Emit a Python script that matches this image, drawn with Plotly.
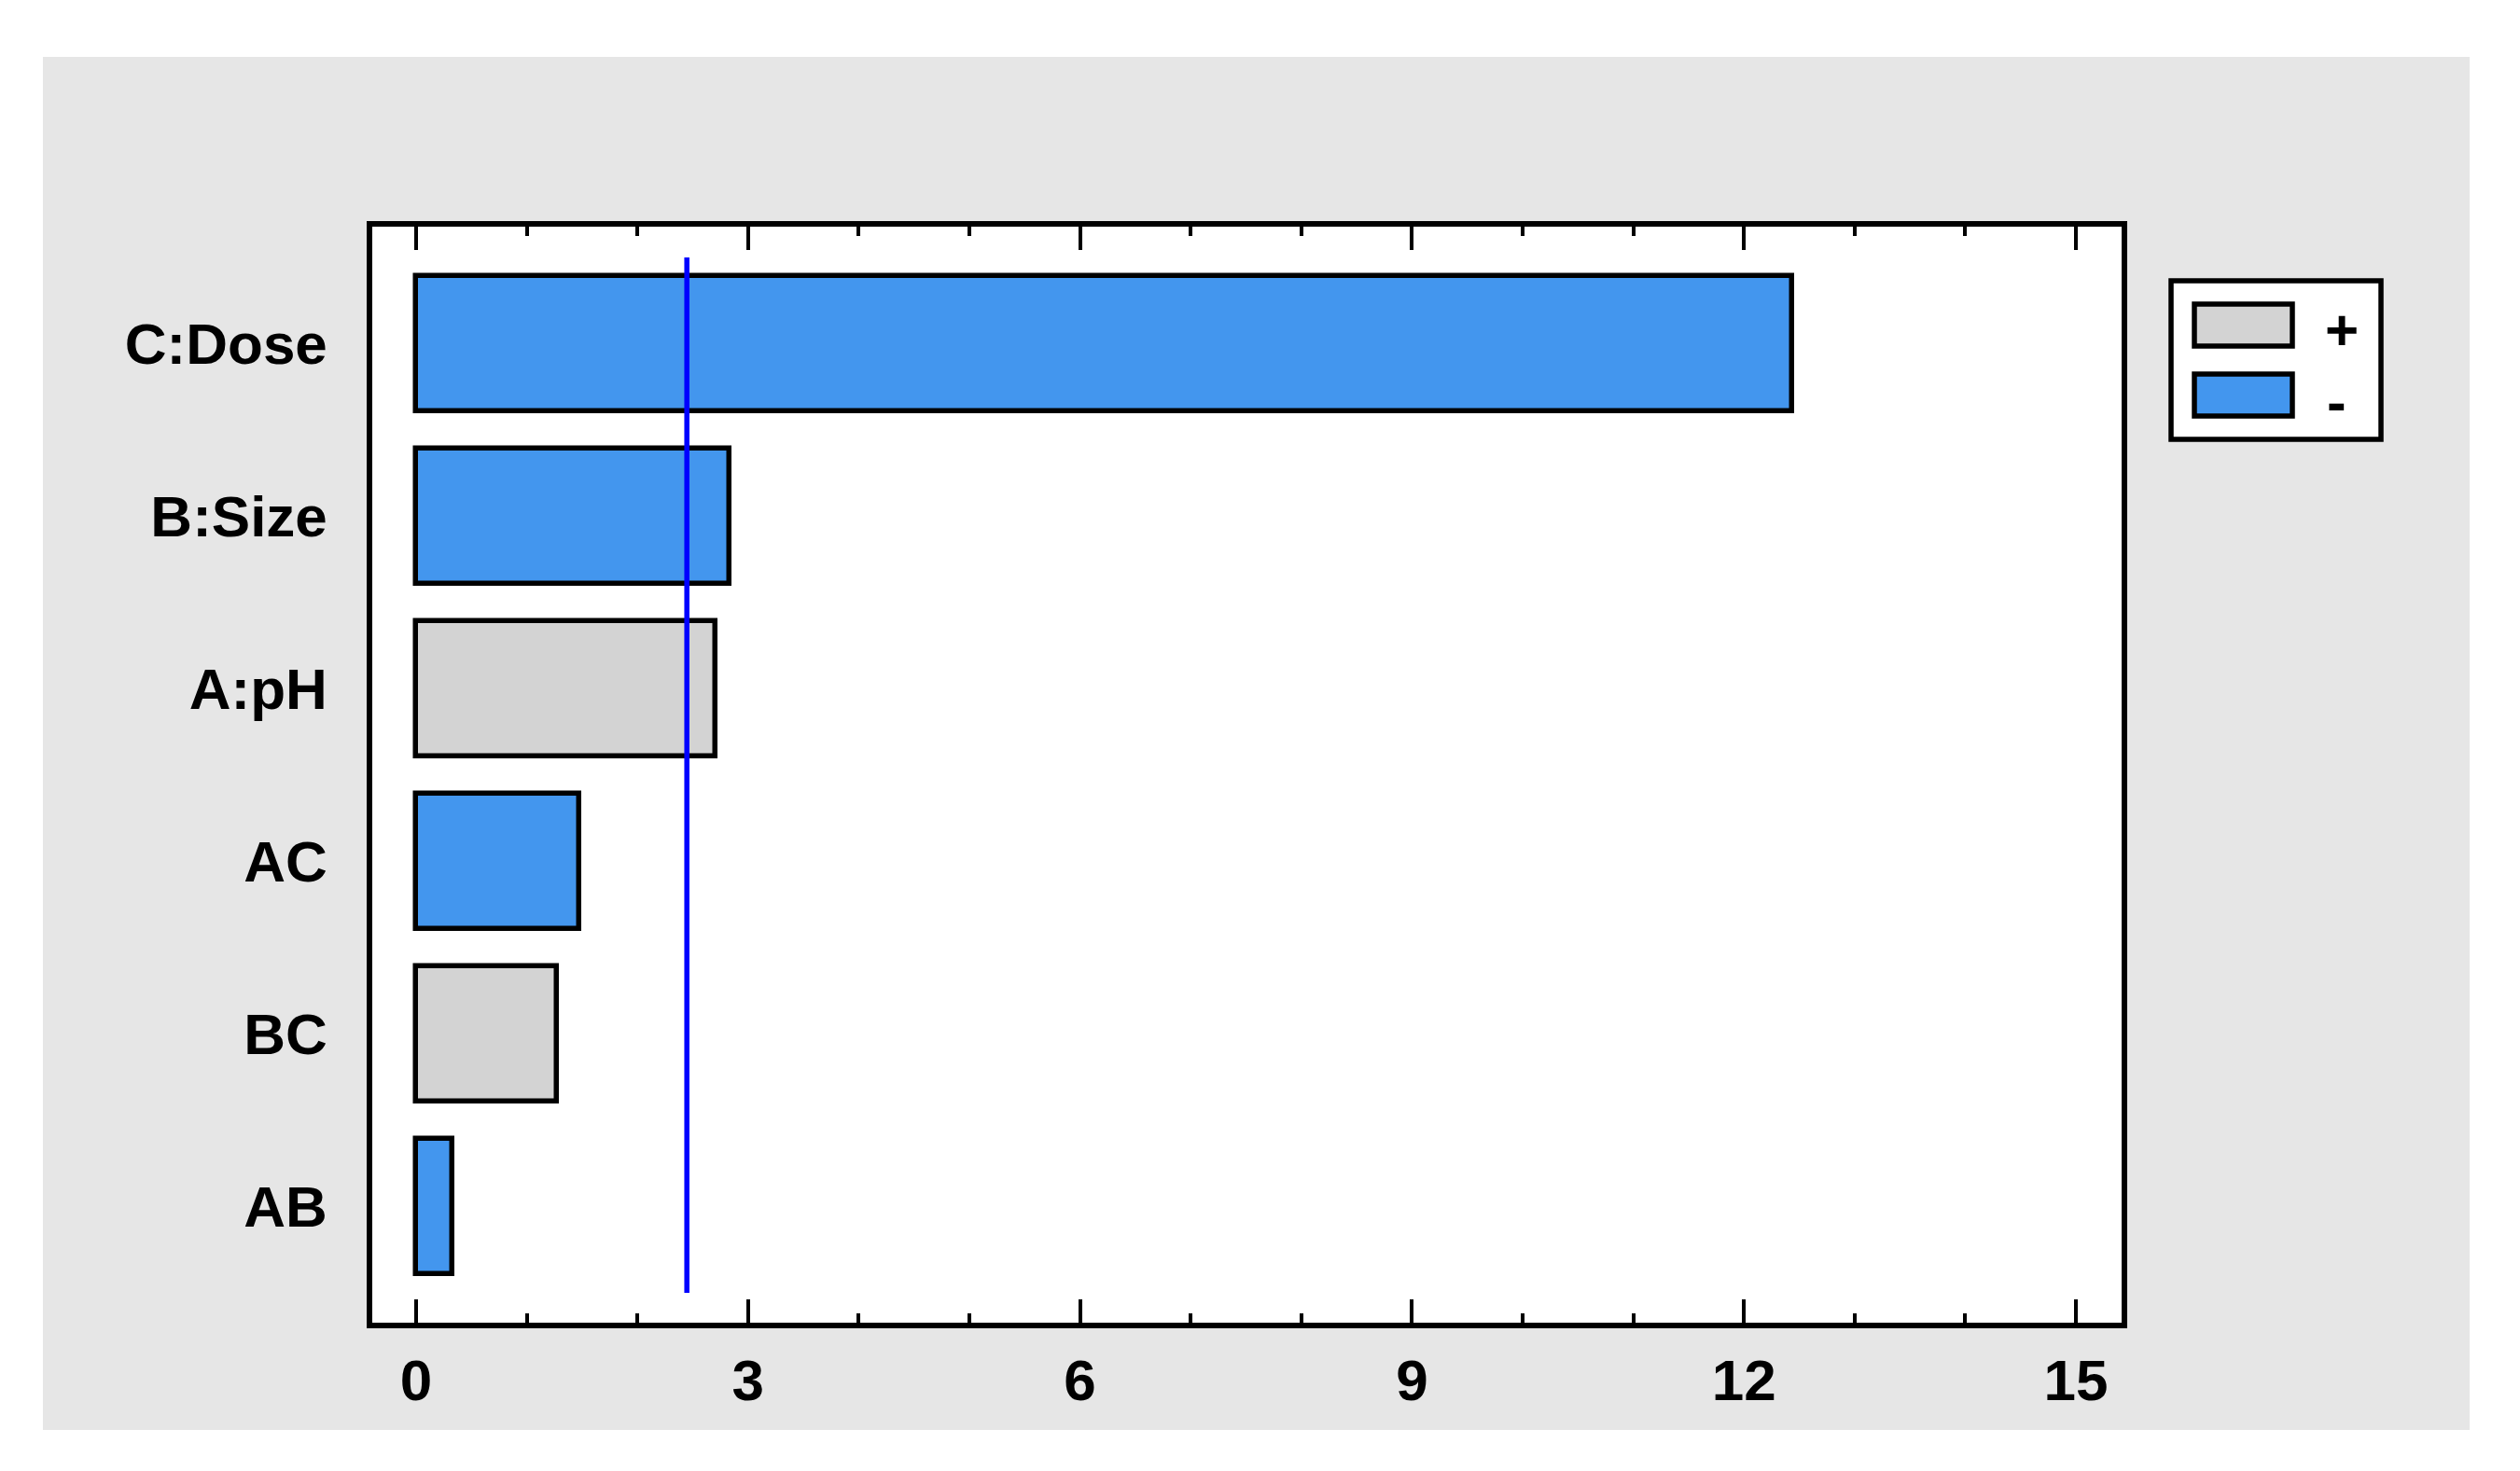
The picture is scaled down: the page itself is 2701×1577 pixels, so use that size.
import plotly.graph_objects as go

# ---- data ----
effects = ["C:Dose", "B:Size", "A:pH", "AC", "BC", "AB"]
effect_values = [12.44, 2.83, 2.71, 1.475, 1.27, 0.333]
effect_signs = ["-", "-", "+", "-", "+", "-"]
critical_value = 2.447
x_tick_values = [0, 3, 6, 9, 12, 15]
x_tick_labels = ["0", "3", "6", "9", "12", "15"]

# ---- styles ----
OFF = 8  # default page body margin
W, H = 2701 - OFF, 1577 - OFF
L, R, T, B = 399 - OFF, 2274 - OFF, 243 - OFF, 1418 - OFF
BLUE = "#4396EE"
GREY = "#D3D3D3"
BG = "#E6E6E6"
LW = 5.5
FONT = dict(family="Liberation Sans, Arial, sans-serif", size=62, color="black", weight="bold")


def px(xp):
    return (xp - OFF - L) / (R - L)


def py(yp):
    return (B - (yp - OFF)) / (B - T)


fig = go.Figure()
for sign, colour in [("+", GREY), ("-", BLUE)]:
    xs = [v for v, s in zip(effect_values, effect_signs) if s == sign]
    ys = [c for c, s in zip(effects, effect_signs) if s == sign]
    fig.add_trace(go.Bar(
        x=xs, y=ys, orientation="h", name=sign, width=0.785,
        marker=dict(color=colour, line=dict(color="black", width=LW)),
        showlegend=False,
    ))

shapes = [
    dict(type="rect", xref="paper", yref="paper", x0=px(46), x1=px(2647), y0=py(1533), y1=py(61),
         fillcolor=BG, line=dict(width=0), layer="below"),
    dict(type="rect", xref="paper", yref="paper", x0=0, x1=1, y0=0, y1=1,
         fillcolor="white", line=dict(width=0), layer="below"),
    dict(type="line", xref="x", yref="y", x0=critical_value, x1=critical_value, y0=-0.5, y1=5.5,
         line=dict(color="#0000FF", width=LW)),
    dict(type="rect", xref="paper", yref="paper", x0=px(2327), x1=px(2552), y0=py(471), y1=py(301),
         fillcolor="white", line=dict(color="black", width=LW)),
    dict(type="rect", xref="paper", yref="paper", x0=px(2352), x1=px(2457), y0=py(371), y1=py(326),
         fillcolor=GREY, line=dict(color="black", width=LW)),
    dict(type="rect", xref="paper", yref="paper", x0=px(2352), x1=px(2457), y0=py(446), y1=py(401),
         fillcolor=BLUE, line=dict(color="black", width=LW)),
]

annotations = [
    dict(text="+", xref="paper", yref="paper", x=px(2490), y=py(354), xanchor="left", yanchor="middle",
         showarrow=False, font=FONT),
    dict(text="-", xref="paper", yref="paper", x=px(2492), y=py(430), xanchor="left", yanchor="middle",
         showarrow=False, font=FONT),
]

fig.update_layout(
    width=W, height=H,
    margin=dict(l=L, r=W - R, t=T, b=H - B, pad=0),
    paper_bgcolor="white", plot_bgcolor="white",
    shapes=shapes, annotations=annotations,
    showlegend=False, bargap=0,
    xaxis=dict(
        range=[-0.396, 15.413], tickvals=x_tick_values, ticktext=x_tick_labels,
        ticks="inside", ticklen=25, tickwidth=4, tickcolor="black",
        minor=dict(dtick=1, tick0=0, ticks="inside", ticklen=10, tickwidth=4, tickcolor="black"),
        showline=True, linewidth=LW, linecolor="black", mirror="ticks",
        showgrid=False, zeroline=False, tickfont=FONT, ticklabelstandoff=3,
    ),
    yaxis=dict(
        type="category", categoryorder="array", categoryarray=effects,
        range=[5.673, -0.678],
        showline=True, linewidth=LW, linecolor="black", mirror=True,
        ticks="", showgrid=False, zeroline=False, tickfont=FONT, ticklabelstandoff=30,
    ),
)

fig.write_html("out.html", config={"displayModeBar": False})
